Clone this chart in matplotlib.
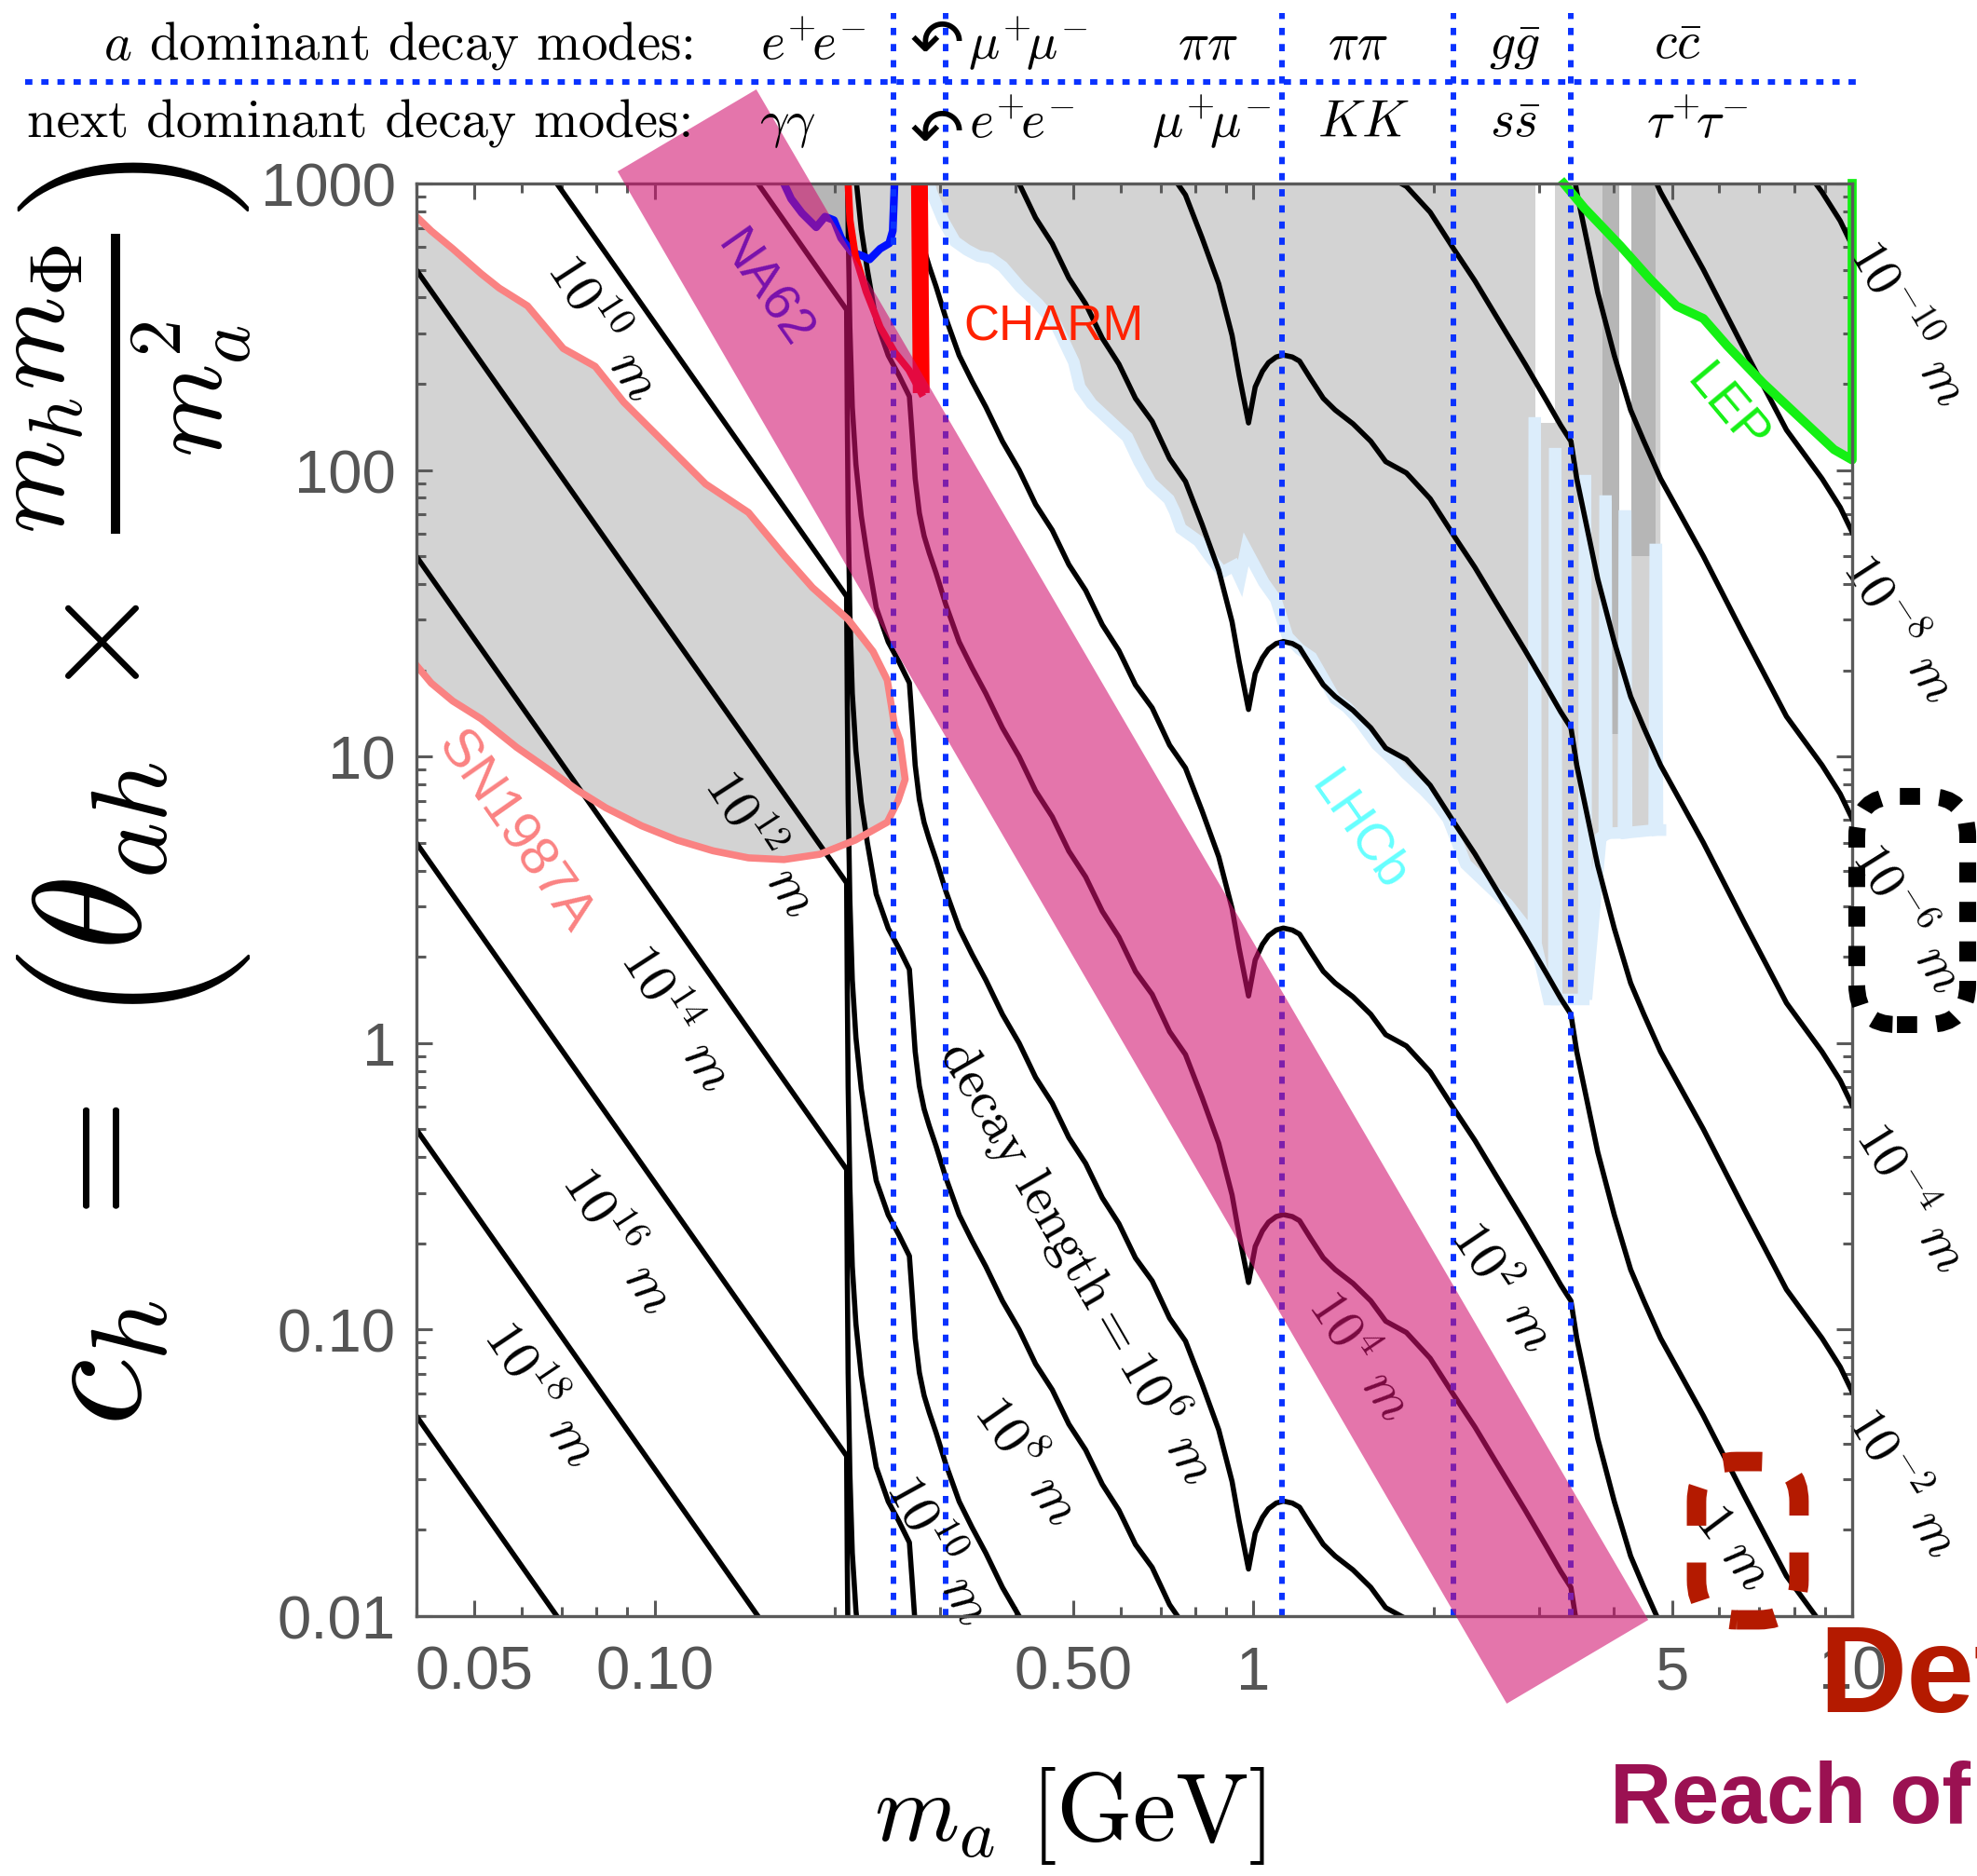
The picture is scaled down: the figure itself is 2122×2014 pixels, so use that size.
import numpy as np
import matplotlib
matplotlib.use("Agg")
import matplotlib.pyplot as plt
import matplotlib.transforms as mtransforms
from matplotlib.patches import Polygon, FancyBboxPatch
from matplotlib.lines import Line2D
from matplotlib.ticker import FixedLocator, FixedFormatter, NullFormatter

plt.rcParams["mathtext.fontset"] = "cm"
plt.rcParams["font.family"] = ["Liberation Sans", "DejaVu Sans"]

# ---------------------------------------------------------------- data
# decay-length contour for L = 1 m : c_h as a function of m_a [GeV]
contour_mass = [0.04, 0.2092, 0.2097, 0.2104, 0.2118, 0.2138, 0.2168, 0.2213,
                0.2265, 0.2344, 0.2455, 0.2559, 0.2663, 0.2692, 0.2723, 0.2767,
                0.2818, 0.2875, 0.2951, 0.3064, 0.3225, 0.3388, 0.3573, 0.3809,
                0.4061, 0.4327, 0.4613, 0.4917, 0.5245, 0.5592, 0.5960, 0.6353,
                0.6774, 0.7244, 0.7700, 0.8208, 0.8750, 0.9211, 0.9465, 0.9813,
                1.0069, 1.0351, 1.0597, 1.0914, 1.1220, 1.1614, 1.1940, 1.2445,
                1.3080, 1.3693, 1.4665, 1.5703, 1.6630, 1.8009, 1.9733, 2.1627,
                2.3442, 2.5376, 2.8445, 3.0903, 3.2614, 3.3907, 3.4674, 3.5727,
                3.7584, 4.0064, 4.2658, 4.4887, 4.7863, 5.6415, 6.6069, 7.7679,
                8.9064, 9.5499, 10.0]
contour_ch_1m = [4.99e8, 3.622e6, 1.585e6, 7.079e5, 3.162e5, 1.660e5, 1.047e5,
                 6.918e4, 5.012e4, 3.311e4, 2.512e4, 2.138e4, 1.807e4, 1.318e4,
                 9333, 7079, 5888, 5129, 4365, 3388, 2512, 2042, 1660, 1259, 1000,
                 758.6, 616.6, 467.7, 380.2, 288.4, 234.4, 177.8, 147.9, 109.6,
                 91.2, 64.6, 44.7, 29.5, 21.4, 14.6, 19.5, 22.1, 23.7, 24.8, 25.2,
                 24.8, 24.0, 20.9, 17.8, 16.2, 14.5, 12.6, 10.7, 9.77, 7.94, 5.89,
                 4.57, 3.47, 2.34, 1.74, 1.43, 1.26, 0.933, 0.692, 0.417, 0.251,
                 0.162, 0.126, 0.0933, 0.0501, 0.0263, 0.0138, 0.00933, 0.00741,
                 0.00607]
# contours drawn for decay length L = 10^n m  (c_h scales as L^-1/2)
contour_powers = list(range(-10, 22, 2))

# kinematic thresholds separating the decay-mode columns [GeV]
threshold_mass = [0.2504, 0.3056, 1.115, 2.16, 3.39]

# SN1987A excluded island (upper branch then lower branch)
sn_mass = [0.04, 0.04234, 0.04599, 0.05129, 0.05495, 0.06131, 0.07035, 0.07953,
           0.08873, 0.1018, 0.1216, 0.1434, 0.1644, 0.1834, 0.2104, 0.2316,
           0.2446, 0.2515, 0.2567, 0.262, 0.2549, 0.2446, 0.2163, 0.1886,
           0.1644, 0.1434, 0.1251, 0.109, 0.0951, 0.0829, 0.0743, 0.0675,
           0.0588, 0.0513, 0.046, 0.04234, 0.04]
sn_ch = [766, 683, 592, 484.5, 432, 374, 265.5, 230, 172.7, 129.7, 89.4, 71.1,
         50.4, 38.9, 30.1, 23.25, 18.49, 12.82, 11.4, 8.32, 7.01, 5.90, 5.11,
         4.56, 4.37, 4.43, 4.69, 5.11, 5.73, 6.62, 7.63, 8.81, 10.77, 13.54,
         15.62, 18.04, 20.8]

# NA62 bound
na62_mass = [0.1644, 0.169, 0.1762, 0.1861, 0.1925, 0.1992, 0.2048, 0.2134,
             0.2223, 0.2285, 0.238, 0.2464, 0.2498, 0.2515]
na62_ch = [1000, 884, 788, 703.5, 766, 744.6, 645, 575.6, 559, 543.4, 592, 618,
           683, 1000]

# CHARM bound (two arms)
charm_left_mass = [0.2104, 0.2119, 0.2163, 0.2255, 0.238, 0.2515, 0.2657, 0.2787]
charm_left_ch = [1000, 745, 559, 419.8, 315.3, 258, 223.6, 185.6]
charm_right_mass = [0.2787, 0.2768]
charm_right_ch = [185.6, 1000]

# LEP bound
lep_mass = [3.299, 3.573, 4.099, 4.595, 5.091, 5.642, 6.182, 7.093, 8.132,
            9.325, 10.0, 10.0]
lep_ch = [1000, 819, 606.5, 464.4, 373.4, 338, 271.8, 201.4, 154, 117.9, 108.5,
          1000]

# LHCb bound (smooth part, then the narrow spikes around 3-5 GeV)
lhcb_mass = [0.2875, 0.2897, 0.3034, 0.3175, 0.3323, 0.3477, 0.3640, 0.381,
             0.4082, 0.437, 0.468, 0.5012, 0.5128, 0.5367, 0.5747, 0.6158,
             0.6443, 0.6745, 0.7224, 0.7391, 0.7564, 0.8096, 0.8475, 0.8870,
             0.9287, 0.9499, 0.9721, 1.0409, 1.0896, 1.1407, 1.194, 1.25, 1.308,
             1.369, 1.433, 1.5, 1.607, 1.72, 1.80, 1.928, 2.019, 2.113, 2.263,
             2.48, 2.656, 2.844,
             2.935, 2.945, 2.955, 2.965, 3.112, 3.175, 3.186, 3.198, 3.209,
             3.516, 3.562, 3.574, 3.586, 3.598, 3.804, 3.855, 3.867, 3.879,
             3.891, 4.15, 4.165, 4.185, 4.20, 4.67, 4.69, 4.71, 4.73, 4.784]
lhcb_ch = [1000, 936, 741, 627, 586, 557.8, 548.7, 513.2, 434, 379.8, 321.5,
           237.9, 194.7, 170.3, 149.1, 130.3, 106.7, 90.3, 79, 71.5, 62.5, 56.5,
           49.5, 44, 46.3, 41.8, 52.9, 40.5, 35.4, 26.2, 23.7, 22.2, 18.8, 15.9,
           14.85, 13.4, 11.0, 9.62, 8.70, 7.62, 6.89, 6.07, 4.21, 3.51, 3.06,
           2.55,
           2.22, 146, 146, 2.22, 1.42, 1.42, 114, 114, 1.42,
           1.42, 1.42, 91.8, 91.8, 1.42, 5.22, 5.3, 77.9, 77.9,
           5.4, 5.42, 69.1, 69.1, 5.42, 5.54, 52.8, 52.8, 5.54, 5.54]

# unconstrained gaps and overlapping bounds near the J/psi region
gap_strips = [(2.96, 3.19, 146), (4.08, 4.28, 66.5)]
overlap_strips = [(3.83, 4.08, 12.0), (4.28, 4.70, 50.0)]

# projected reach (tilted band)
band_mass = [0.0867, 0.1478, 4.565, 2.649]
band_ch = [1102, 2130, 0.0097, 0.00495]

# contour labels: (text, m_a, c_h, rotation)
contour_labels = [
    (r"$10^{10}\ m$", 0.0818, 315, -57),
    (r"$10^{12}\ m$", 0.1494, 4.97, -57),
    (r"$10^{14}\ m$", 0.1082, 1.222, -57),
    (r"$10^{16}\ m$", 0.0867, 0.206, -57),
    (r"$10^{18}\ m$", 0.0645, 0.0598, -56),
    (r"$10^{10}\ m$", 0.297, 0.0171, -61),
    (r"$10^{8}\ m$", 0.4175, 0.0351, -55),
    (r"$\mathrm{decay\ length} = 10^{6}\ m$", 0.5113, 0.1739, -60),
    (r"$10^{4}\ m$", 1.499, 0.0813, -56),
    (r"$10^{2}\ m$", 2.593, 0.1405, -56),
    (r"$1\ m$", 6.32, 0.0174, -53),
]
edge_labels = [
    (r"$10^{-10}\ m$", 12.4, 325, -59),
    (r"$10^{-8}\ m$", 11.95, 28.1, -57),
    (r"$10^{-6}\ m$", 12.35, 2.743, -58),
    (r"$10^{-4}\ m$", 12.45, 0.288, -58),
    (r"$10^{-2}\ m$", 12.1, 0.0292, -58),
]

x_ticks = [0.05, 0.1, 0.5, 1, 5, 10]
x_ticklabels = ["0.05", "0.10", "0.50", "1", "5", "10"]
y_ticks = [0.01, 0.1, 1, 10, 100, 1000]
y_ticklabels = ["0.01", "0.10", "1", "10", "100", "1000"]

mode_row1 = [(r"$e^{+}\!e^{-}$", 0.4114), (r"$\mu^{+}\!\mu^{-}$", 0.5200),
             (r"$\pi\pi$", 0.6112), (r"$\pi\pi$", 0.6871), (r"$g\bar{g}$", 0.7663),
             (r"$c\bar{c}$", 0.8487)]
mode_row2 = [(r"$\gamma\gamma$", 0.3982), (r"$e^{+}\!e^{-}$", 0.5170),
             (r"$\mu^{+}\!\mu^{-}$", 0.6126), (r"$KK$", 0.6894),
             (r"$s\bar{s}$", 0.7663), (r"$\tau^{+}\!\tau^{-}$", 0.8586)]

# ---------------------------------------------------------------- colours
GRAY = "#d3d3d3"
DARKGRAY = "#b6b6b6"
LHCB_LINE = "#dcedfb"
BLUE = "#0a32ff"
SALMON = "#fa8282"
PINK = (209 / 255, 17 / 255, 111 / 255)
FRAME = "#5a5a5a"

# ---------------------------------------------------------------- figure
fig = plt.figure(figsize=(21.22, 20.15), dpi=100)
ax = fig.add_axes([447 / 2122, 279 / 2015, 1541 / 2122, 1538 / 2015])
ax.set_xscale("log")
ax.set_yscale("log")
ax.set_xlim(0.04, 10)
ax.set_ylim(0.01, 1000)

# excluded regions
ax.fill(sn_mass, sn_ch, color=GRAY, lw=0, zorder=1)
ax.fill(na62_mass, na62_ch, color=DARKGRAY, lw=0, zorder=1)
ax.fill(charm_left_mass + charm_right_mass, charm_left_ch + charm_right_ch,
        color=GRAY, lw=0, zorder=1)
upper_m = lhcb_mass + [4.784] + [m for m in lep_mass[4:]] + [0.2875]
upper_c = lhcb_ch + [430] + [c for c in lep_ch[4:]] + [1000]
ax.fill(upper_m, upper_c, color=GRAY, lw=0, zorder=1)
ax.fill(lep_mass, lep_ch, color=GRAY, lw=0, zorder=1)
for lo, hi, cl in gap_strips:
    ax.fill_between([lo, hi], [cl, cl], [1000, 1000], color="white", lw=0, zorder=1.1)
for lo, hi, cl in overlap_strips:
    ax.fill_between([lo, hi], [cl, cl], [1000, 1000], color=DARKGRAY, lw=0, zorder=1.2)

ax.plot(lhcb_mass, lhcb_ch, color=LHCB_LINE, lw=9, zorder=1.5,
        solid_joinstyle="miter")

# decay-length contours
cm = np.array(contour_mass)
cc = np.array(contour_ch_1m)
for n in contour_powers:
    ax.plot(cm, cc * 10.0 ** (-n / 2), color="black", lw=4.0, zorder=3,
            solid_joinstyle="round")

# experimental bounds
ax.plot(sn_mass, sn_ch, color=SALMON, lw=5.5, zorder=3.5)
ax.plot(na62_mass, na62_ch, color="#0010ff", lw=6, zorder=3.5)
ax.plot(charm_left_mass, charm_left_ch, color="#ff0000", lw=5.5, zorder=3.5)
ax.plot(charm_right_mass, charm_right_ch, color="#ff0000", lw=13, zorder=3.5,
        solid_capstyle="butt")
ax.plot(lep_mass, lep_ch, color="#14f014", lw=7, zorder=3.5, clip_on=False)

# threshold lines
trans_xd = mtransforms.blended_transform_factory(ax.transData, ax.transAxes)
for m in threshold_mass:
    ax.plot([m, m], [0, 1.119], transform=trans_xd, color=BLUE, lw=4.3,
            linestyle=(0, (1.3, 1.6)), zorder=4, clip_on=False)

# contour labels
for txt, m, c, rot in contour_labels:
    ax.text(m, c, txt, fontsize=42, rotation=rot, ha="center", va="center",
            zorder=4.5, clip_on=False)
for txt, m, c, rot in edge_labels:
    ax.text(m, c, txt, fontsize=40, rotation=rot, ha="center", va="center",
            zorder=4.5, clip_on=False)

# experiment labels
ax.text(0.1515, 429, "NA62", color="#0010ff", fontsize=40, rotation=-55,
        ha="center", va="center", zorder=4.5)
ax.text(0.3285, 316, "CHARM", color="#ff2200", fontsize=38, ha="left",
        va="center", zorder=4.5)
ax.text(6.17, 163.5, "LEP", color="#14f014", fontsize=40, rotation=-50,
        ha="center", va="center", zorder=4.5)
ax.text(1.5, 5.5, "LHCb", color="#66ffff", fontsize=40, rotation=-55,
        ha="center", va="center", zorder=4.5)
ax.text(0.0582, 5.5, "SN1987A", color=SALMON, fontsize=42, rotation=-55,
        ha="center", va="center", zorder=4.5)

# projected reach band
band = Polygon(np.column_stack([band_mass, band_ch]), closed=True,
               transform=ax.transData, facecolor=PINK, alpha=0.58,
               edgecolor="none", zorder=10, clip_on=False)
ax.add_patch(band)

# axes styling
ax.xaxis.set_major_locator(FixedLocator(x_ticks))
ax.xaxis.set_major_formatter(FixedFormatter(x_ticklabels))
ax.yaxis.set_major_locator(FixedLocator(y_ticks))
ax.yaxis.set_major_formatter(FixedFormatter(y_ticklabels))
x_minor = [d * s for d in (0.01, 0.1, 1) for s in range(2, 10)
           if 0.04 <= d * s <= 10 and d * s not in (0.05, 0.5, 5)]
y_minor = [d * s for d in (0.01, 0.1, 1, 10, 100) for s in range(2, 10)]
ax.xaxis.set_minor_locator(FixedLocator(x_minor))
ax.yaxis.set_minor_locator(FixedLocator(y_minor))
ax.xaxis.set_minor_formatter(NullFormatter())
ax.yaxis.set_minor_formatter(NullFormatter())
ax.tick_params(which="both", direction="in", top=True, right=True,
               color=FRAME, width=2.2)
ax.tick_params(which="major", length=12, labelsize=47, labelcolor="#555555")
ax.tick_params(which="minor", length=7)
ax.tick_params(axis="x", which="major", pad=22)
ax.tick_params(axis="y", which="major", pad=16)
for s in ax.spines.values():
    s.set_color(FRAME)
    s.set_linewidth(2.4)
    s.set_zorder(5)

# axis titles
fig.text(0.541, 0.0194, r"$m_a\ [\mathrm{GeV}]$", fontsize=75, ha="center",
         va="baseline")
fig.text(0.0683, 0.5773,
         r"$c_h\ =\ \left(\theta_{ah}\,\times\,\frac{m_h m_\Phi}{m_a^2}\right)$",
         fontsize=118, rotation=90, ha="center", va="center")

# decay-mode header
fig.add_artist(Line2D([0.0127, 0.9401], [0.9558, 0.9558], transform=fig.transFigure,
                      color=BLUE, lw=4.3, linestyle=(0, (1.3, 1.6))))
fig.text(0.3506, 0.9687, r"$a$ dominant decay modes:", family="cmr10",
         fontsize=41, ha="right", va="baseline")
fig.text(0.3506, 0.9270, "next dominant decay modes:", family="cmr10",
         fontsize=41, ha="right", va="baseline")
for txt, x in mode_row1:
    fig.text(x, 0.9687, txt, fontsize=40, ha="center", va="baseline")
for txt, x in mode_row2:
    fig.text(x, 0.9270, txt, fontsize=40, ha="center", va="baseline")
for y in (0.9756, 0.9276):
    fig.text(0.4740, y, "\u21b6", fontsize=50, family="DejaVu Sans",
             ha="center", va="center")

# reach annotations
ax.add_patch(FancyBboxPatch((0.8916, -0.0026), 0.0714, 0.1105,
                            boxstyle="round,pad=0,rounding_size=0.028",
                            transform=ax.transAxes, fill=False,
                            edgecolor="#b41a00", lw=15,
                            linestyle=(0, (2.0, 1.9)), zorder=11, clip_on=False))
ax.add_patch(FancyBboxPatch((1.0032, 0.4129), 0.0773, 0.1593,
                            boxstyle="round,pad=0,rounding_size=0.028",
                            transform=ax.transAxes, fill=False,
                            edgecolor="black", lw=13,
                            linestyle=(0, (1.2, 1.15)), zorder=11, clip_on=False))
fig.text(0.9199, 0.0878, "Det", fontsize=94, fontweight="bold", color="#b41a00",
         ha="left", va="baseline")
fig.text(0.8143, 0.0288, "Reach of", fontsize=66, fontweight="bold",
         color="#9b1152", ha="left", va="baseline")

fig.savefig("out.png", dpi=100)
